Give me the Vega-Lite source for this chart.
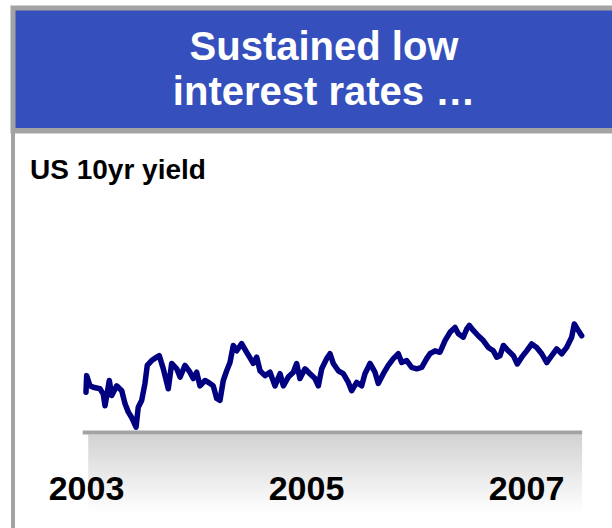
{
  "$schema": "https://vega.github.io/schema/vega-lite/v6.json",
  "padding": {"left": 7, "top": 5, "right": 0, "bottom": 0},
  "background": "white",
  "columns": 1,
  "spacing": -6,
  "align": "none",
  "config": {"font": "Liberation Sans"},
  "concat": [
    {
      "width": 622,
      "height": 123,
      "view": {"fill": "#3550bd", "stroke": "#a3a3a3", "strokeWidth": 5},
      "data": {"values": [{"headline": "Sustained low\ninterest rates …"}]},
      "mark": {"type": "text", "lineBreak": "\n", "fontSize": 40, "fontWeight": "bold", "lineHeight": 45, "color": "white", "align": "center", "baseline": "middle", "dy": -22, "font": "Liberation Sans"},
      "encoding": {"text": {"field": "headline", "type": "nominal"}}
    },
    {
      "width": 733,
      "height": 411,
      "view": {"stroke": "#a3a3a3", "strokeWidth": 4},
      "title": {"text": "US 10yr yield", "anchor": "start", "frame": "group", "orient": "top", "offset": -77, "dx": 17, "baseline": "alphabetic", "fontSize": 28, "fontWeight": "bold", "color": "black", "font": "Liberation Sans"},
      "layer": [
        {
          "data": {"values": [{"from": 2003.02, "to": 2007.51, "top": 2.99, "bottom": 1.38}]},
          "mark": {"type": "rect", "color": {"gradient": "linear", "x1": 0, "y1": 0, "x2": 0, "y2": 1, "stops": [{"offset": 0, "color": "#d2d2d2"}, {"offset": 1, "color": "#ffffff"}]}},
          "encoding": {
            "x": {"field": "from", "type": "quantitative", "scale": {"domain": [2002.3364, 2009], "nice": false, "zero": false},
                  "axis": {"orient": "bottom", "offset": -108, "zindex": 1, "values": [2003, 2005, 2007], "format": "d", "domain": false, "ticks": false, "tickSize": 0, "grid": false, "labelPadding": 66, "labelBaseline": "alphabetic", "labelFontSize": 34, "labelFont": "Liberation Sans", "labelFontWeight": "bold", "labelColor": "black", "title": null, "labelFlush": false, "labelOverlap": false}},
            "x2": {"field": "to"},
            "y": {"field": "top", "type": "quantitative", "scale": {"domain": [0.8, 9.25], "nice": false, "zero": false},
                  "axis": {"orient": "left", "labels": false, "domain": false, "grid": false, "ticks": true, "tickSize": 4, "tickOpacity": 0, "title": null, "values": [5]}},
            "y2": {"field": "bottom"}
          }
        },
        {
          "data": {"values": [{"from": 2002.97, "to": 2007.51, "level": 3.03}]},
          "mark": {"type": "rule", "color": "#a3a3a3", "strokeWidth": 4},
          "encoding": {
            "x": {"field": "from", "type": "quantitative"},
            "x2": {"field": "to"},
            "y": {"field": "level", "type": "quantitative"}
          }
        },
        {
          "data": {"values": [
            {"t": 2003.0, "v": 3.86}, {"t": 2003.006, "v": 4.2}, {"t": 2003.036, "v": 3.99}, {"t": 2003.066, "v": 3.96},
            {"t": 2003.127, "v": 3.93}, {"t": 2003.157, "v": 3.82}, {"t": 2003.173, "v": 3.58}, {"t": 2003.212, "v": 4.1},
            {"t": 2003.234, "v": 3.79}, {"t": 2003.279, "v": 3.99}, {"t": 2003.325, "v": 3.89}, {"t": 2003.355, "v": 3.62},
            {"t": 2003.385, "v": 3.45}, {"t": 2003.415, "v": 3.34}, {"t": 2003.455, "v": 3.14}, {"t": 2003.475, "v": 3.55},
            {"t": 2003.506, "v": 3.69}, {"t": 2003.536, "v": 4.04}, {"t": 2003.557, "v": 4.41}, {"t": 2003.597, "v": 4.51},
            {"t": 2003.643, "v": 4.58}, {"t": 2003.666, "v": 4.61}, {"t": 2003.703, "v": 4.34}, {"t": 2003.748, "v": 3.93},
            {"t": 2003.779, "v": 4.45}, {"t": 2003.825, "v": 4.34}, {"t": 2003.855, "v": 4.17}, {"t": 2003.9, "v": 4.41},
            {"t": 2003.945, "v": 4.27}, {"t": 2003.975, "v": 4.14}, {"t": 2004.006, "v": 4.27}, {"t": 2004.036, "v": 3.99},
            {"t": 2004.082, "v": 4.1}, {"t": 2004.127, "v": 4.04}, {"t": 2004.157, "v": 3.99}, {"t": 2004.188, "v": 3.73},
            {"t": 2004.218, "v": 3.69}, {"t": 2004.248, "v": 4.1}, {"t": 2004.279, "v": 4.3}, {"t": 2004.309, "v": 4.47},
            {"t": 2004.339, "v": 4.82}, {"t": 2004.37, "v": 4.71}, {"t": 2004.415, "v": 4.86}, {"t": 2004.461, "v": 4.68},
            {"t": 2004.506, "v": 4.51}, {"t": 2004.521, "v": 4.45}, {"t": 2004.552, "v": 4.58}, {"t": 2004.582, "v": 4.3},
            {"t": 2004.627, "v": 4.2}, {"t": 2004.673, "v": 4.27}, {"t": 2004.718, "v": 3.99}, {"t": 2004.764, "v": 4.24},
            {"t": 2004.794, "v": 3.99}, {"t": 2004.839, "v": 4.17}, {"t": 2004.885, "v": 4.27}, {"t": 2004.915, "v": 4.45},
            {"t": 2004.945, "v": 4.14}, {"t": 2004.991, "v": 4.34}, {"t": 2005.036, "v": 4.24}, {"t": 2005.082, "v": 4.14},
            {"t": 2005.112, "v": 3.99}, {"t": 2005.143, "v": 4.34}, {"t": 2005.188, "v": 4.55}, {"t": 2005.218, "v": 4.65},
            {"t": 2005.248, "v": 4.45}, {"t": 2005.294, "v": 4.3}, {"t": 2005.339, "v": 4.24}, {"t": 2005.385, "v": 4.06},
            {"t": 2005.415, "v": 3.89}, {"t": 2005.461, "v": 4.06}, {"t": 2005.506, "v": 3.99}, {"t": 2005.536, "v": 4.24},
            {"t": 2005.582, "v": 4.45}, {"t": 2005.627, "v": 4.27}, {"t": 2005.657, "v": 4.04}, {"t": 2005.703, "v": 4.24},
            {"t": 2005.748, "v": 4.41}, {"t": 2005.794, "v": 4.55}, {"t": 2005.839, "v": 4.65}, {"t": 2005.87, "v": 4.47},
            {"t": 2005.915, "v": 4.51}, {"t": 2005.961, "v": 4.37}, {"t": 2006.006, "v": 4.34}, {"t": 2006.052, "v": 4.37},
            {"t": 2006.097, "v": 4.55}, {"t": 2006.127, "v": 4.65}, {"t": 2006.173, "v": 4.71}, {"t": 2006.218, "v": 4.68},
            {"t": 2006.264, "v": 4.92}, {"t": 2006.309, "v": 5.09}, {"t": 2006.355, "v": 5.19}, {"t": 2006.385, "v": 5.06},
            {"t": 2006.43, "v": 4.99}, {"t": 2006.461, "v": 5.16}, {"t": 2006.485, "v": 5.23}, {"t": 2006.521, "v": 5.13},
            {"t": 2006.566, "v": 5.02}, {"t": 2006.612, "v": 4.92}, {"t": 2006.657, "v": 4.78}, {"t": 2006.703, "v": 4.71},
            {"t": 2006.734, "v": 4.58}, {"t": 2006.764, "v": 4.61}, {"t": 2006.794, "v": 4.82}, {"t": 2006.839, "v": 4.71},
            {"t": 2006.885, "v": 4.61}, {"t": 2006.921, "v": 4.44}, {"t": 2006.961, "v": 4.58}, {"t": 2007.006, "v": 4.71},
            {"t": 2007.052, "v": 4.85}, {"t": 2007.097, "v": 4.78}, {"t": 2007.143, "v": 4.65}, {"t": 2007.188, "v": 4.47},
            {"t": 2007.234, "v": 4.61}, {"t": 2007.279, "v": 4.75}, {"t": 2007.325, "v": 4.65}, {"t": 2007.37, "v": 4.78},
            {"t": 2007.415, "v": 4.99}, {"t": 2007.439, "v": 5.26}, {"t": 2007.475, "v": 5.13}, {"t": 2007.506, "v": 5.02}
          ]},
          "mark": {"type": "line", "color": "#000080", "strokeWidth": 5.5, "strokeJoin": "round", "strokeCap": "round"},
          "encoding": {
            "x": {"field": "t", "type": "quantitative"},
            "y": {"field": "v", "type": "quantitative"}
          }
        }
      ]
    }
  ]
}
